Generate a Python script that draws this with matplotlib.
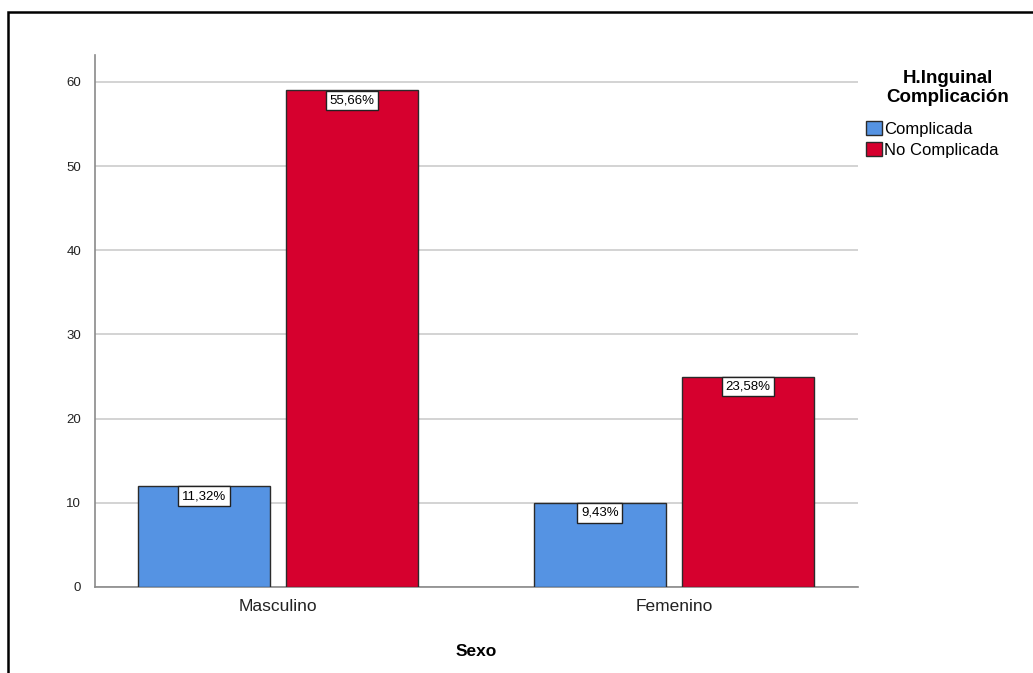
import matplotlib.pyplot as plt
import numpy as np
from matplotlib.patches import Rectangle

plt.rcParams['font.family'] = ['Liberation Sans', 'DejaVu Sans']

# data
categorias = ["Masculino", "Femenino"]
complicada = [12, 10]
no_complicada = [59, 25]
pct_complicada = ["11,32%", "9,43%"]
pct_no_complicada = ["55,66%", "23,58%"]

fig = plt.figure(figsize=(10.33, 6.73), dpi=100)
ax = fig.add_axes([0.092, 0.1278, 0.7386, 0.7905])

# outer border like the SPSS viewer frame
fig.patches.append(Rectangle((8 / 1033, -0.1), 1.2, 1 - 12 / 673 + 0.1,
                             transform=fig.transFigure, fill=False,
                             edgecolor="black", linewidth=1.8))

x = np.arange(len(categorias))
w = 0.333
off = 0.187
blue = "#5593e3"
red = "#d6002e"

ax.bar(x - off, complicada, w, color=blue, edgecolor="#2b2b2b", linewidth=1,
       label="Complicada", zorder=3)
ax.bar(x + off, no_complicada, w, color=red, edgecolor="#2b2b2b", linewidth=1,
       label="No Complicada", zorder=3)

# percentage labels in white boxes just under the bar top
box = dict(boxstyle="square,pad=0.28", facecolor="white", edgecolor="#222222",
           linewidth=1)
for i in range(len(categorias)):
    ax.annotate(pct_complicada[i], (x[i] - off, complicada[i]), xytext=(0, -3),
                textcoords="offset points", ha="center", va="top",
                fontsize=9.5, bbox=box, zorder=5)
    ax.annotate(pct_no_complicada[i], (x[i] + off, no_complicada[i]),
                xytext=(0, -3), textcoords="offset points", ha="center",
                va="top", fontsize=9.5, bbox=box, zorder=5)

# axes
ax.set_xlim(-0.462, 1.465)
ax.set_ylim(0, 63.2)
ax.set_yticks([0, 10, 20, 30, 40, 50, 60])
ax.set_xticks(x)
ax.set_xticklabels(categorias, fontsize=12.5, color="#222222")
ax.tick_params(axis="y", length=0, labelsize=9.5, pad=10, labelcolor="#222222")
ax.tick_params(axis="x", length=0, pad=9)
ax.grid(axis="y", color="#cccccc", linewidth=1.2, zorder=0)
ax.set_axisbelow(True)
for s in ["top", "right"]:
    ax.spines[s].set_visible(False)
for s in ["left", "bottom"]:
    ax.spines[s].set_color("#8a8a8a")
    ax.spines[s].set_linewidth(1.2)

ax.set_xlabel("Sexo", fontsize=12.5, fontweight="bold", labelpad=21)

# legend title (centered) and entries
fig.text(948 / 1033, 1 - 70 / 673, "H.Inguinal\nComplicación", ha="center",
         va="top", fontsize=13.5, fontweight="bold", linespacing=1.12)
leg = ax.legend(loc="upper left", bbox_to_anchor=(866 / 1033, 1 - 121 / 673),
                bbox_transform=fig.transFigure, frameon=False, fontsize=12,
                handlelength=0.95, handleheight=0.95, handletextpad=0.12,
                labelspacing=0.3, borderaxespad=0, borderpad=0)
for h in leg.legend_handles:
    h.set_edgecolor("#2b2b2b")

plt.savefig("out.png", dpi=100)
